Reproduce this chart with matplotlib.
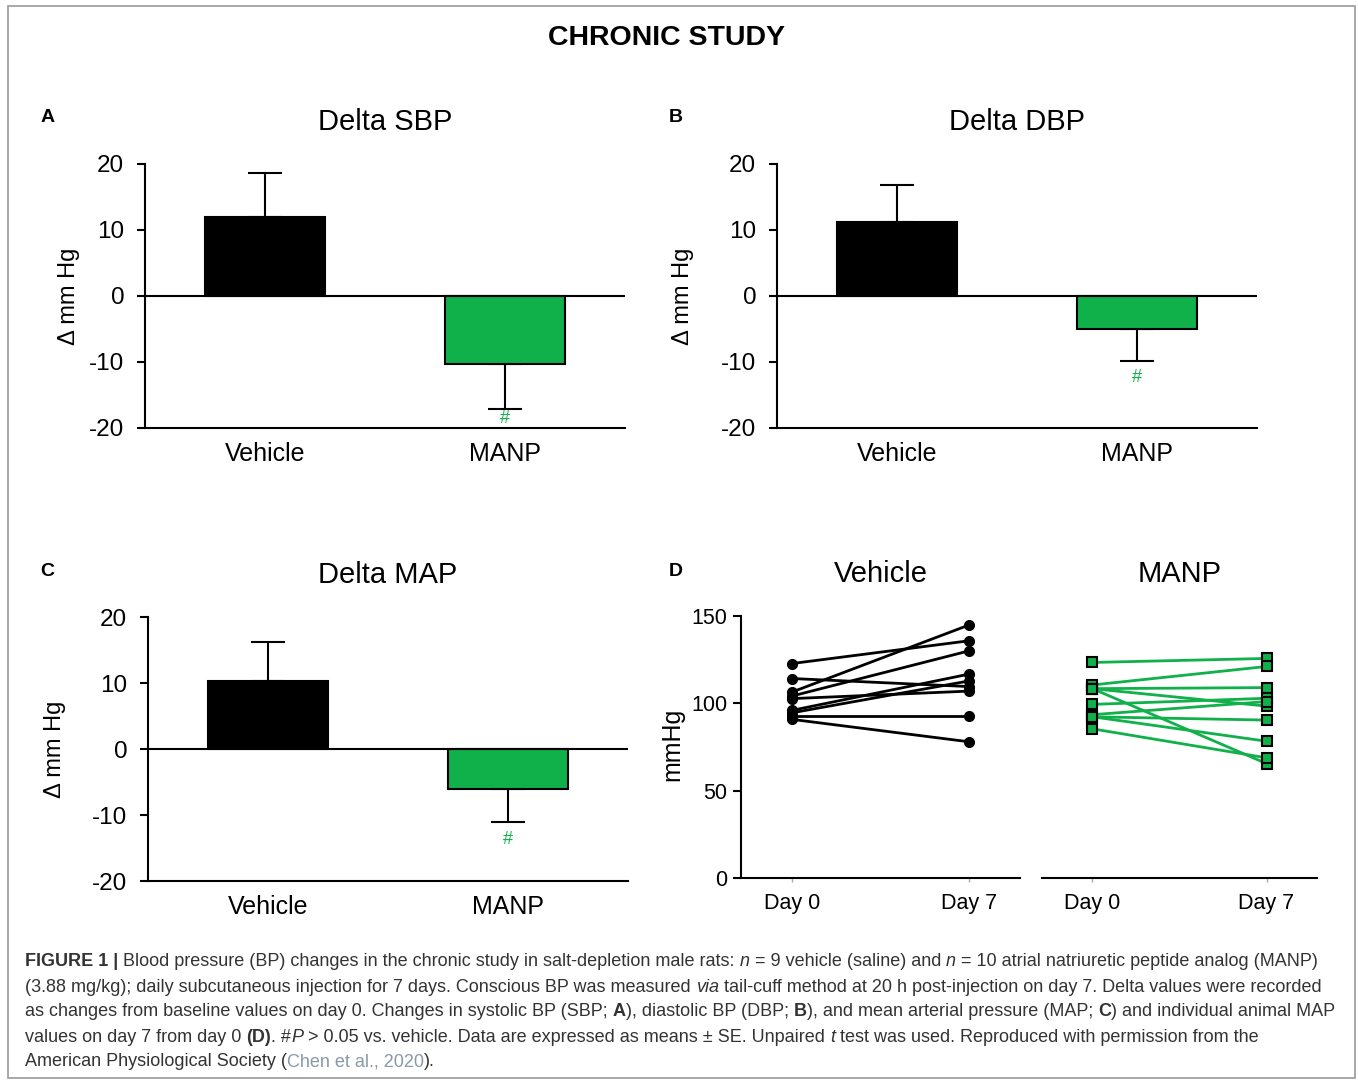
import numpy as np
import matplotlib
matplotlib.use("Agg")
import matplotlib.pyplot as plt
from matplotlib import font_manager
from matplotlib.patches import Rectangle

plt.rcParams['font.family'] = ['Liberation Sans', 'DejaVu Sans']
plt.rcParams['axes.unicode_minus'] = False

# ---- data ----
groups = ['Vehicle', 'MANP']
sbp_mean = [12.0, -10.3]
sbp_se = [6.6, 6.8]
dbp_mean = [11.2, -5.0]
dbp_se = [5.6, 4.8]
map_mean = [10.3, -6.1]
map_se = [5.9, 5.0]

days = ['Day 0', 'Day 7']
veh_day0 = [122.8, 114.2, 106.5, 104.2, 102.7, 96.0, 94.6, 92.7, 90.8]
veh_day7 = [135.8, 109.6, 144.8, 130.0, 107.0, 116.7, 112.8, 92.7, 78.0]
manp_day0 = [123.4, 110.5, 108.4, 108.4, 108.4, 99.4, 93.5, 92.3, 92.3, 85.4]
manp_day7 = [125.7, 121.1, 109.0, 98.4, 65.5, 102.9, 101.0, 90.4, 78.3, 68.8]

GREEN = '#10b04a'
W, H = 1358, 1080

fig = plt.figure(figsize=(W / 100, H / 100), dpi=100)


def ax_at(l, t, r, b):
    return fig.add_axes([l / W, 1 - b / H, (r - l) / W, (b - t) / H])


def bar_panel(ax, means, ses, title, lab_x, hash_off):
    x = np.arange(len(groups))
    ax.bar(x, means, width=0.5, color=['black', GREEN], edgecolor='black', linewidth=1.5, zorder=3)
    lower = [e if m < 0 else 0 for m, e in zip(means, ses)]
    upper = [e if m >= 0 else 0 for m, e in zip(means, ses)]
    ax.errorbar(x, means, yerr=[lower, upper], fmt='none', ecolor='black',
                elinewidth=1.5, capsize=12, capthick=1.5, zorder=2)
    ax.axhline(0, color='black', lw=1.5, zorder=4)
    ax.annotate('#', (1, means[1] - ses[1]), xytext=(0, hash_off), textcoords='offset points',
                ha='center', va='top', color=GREEN, fontsize=13)
    ax.set_xlim(-0.5, 1.5)
    ax.set_ylim(-20, 20)
    ax.set_yticks([20, 10, 0, -10, -20])
    ax.set_xticks(x)
    ax.set_xticklabels(groups)
    for s in ['top', 'right']:
        ax.spines[s].set_visible(False)
    for s in ['left', 'bottom']:
        ax.spines[s].set_linewidth(1.5)
    ax.tick_params(axis='y', length=6, width=1.5, pad=9, labelsize=17.5)
    ax.tick_params(axis='x', length=0, pad=10, labelsize=18)
    ax.set_ylabel('Δ mm Hg', fontsize=17)
    ax.yaxis.set_label_coords(lab_x, 0.5)
    ax.text(0.5, 1.16, title, transform=ax.transAxes, ha='center', va='center', fontsize=21)


axA = ax_at(145, 164, 625, 428)
bar_panel(axA, sbp_mean, sbp_se, 'Delta SBP', -0.136, -1)
axB = ax_at(777, 164, 1257, 428)
bar_panel(axB, dbp_mean, dbp_se, 'Delta DBP', -0.173, -6)
axC = ax_at(148, 617, 628, 881)
bar_panel(axC, map_mean, map_se, 'Delta MAP', -0.171, -6)

# ---- panel D ----
axV = ax_at(741, 616, 1020, 878)
axM = ax_at(1042, 616, 1317, 878)
for a, b in zip(veh_day0, veh_day7):
    axV.plot([0, 1], [a, b], color='black', lw=2, marker='o', ms=7, clip_on=False)
for a, b in zip(manp_day0, manp_day7):
    axM.plot([0, 1], [a, b], color=GREEN, lw=2, marker='s', ms=6.5,
             markerfacecolor=GREEN, markeredgecolor='black', markeredgewidth=1.5, clip_on=False)
for ax, name in [(axV, 'Vehicle'), (axM, 'MANP')]:
    ax.set_xlim(-0.29, 1.29)
    ax.set_ylim(0, 150)
    ax.set_xticks([0, 1])
    ax.set_xticklabels(days)
    for s in ['top', 'right']:
        ax.spines[s].set_visible(False)
    ax.spines['bottom'].set_linewidth(1.5)
    ax.spines['left'].set_linewidth(1.5)
    ax.tick_params(axis='x', length=3, width=1, color='#aaaaaa', pad=8, labelsize=15.5)
    ax.tick_params(axis='y', length=6, width=1.5, pad=4, labelsize=15.5)
    ax.text(0.5, 1.16, name, transform=ax.transAxes, ha='center', va='center', fontsize=21)
axV.set_yticks([0, 50, 100, 150])
axV.set_ylabel('mmHg', fontsize=18)
axV.yaxis.set_label_coords(-0.204, 0.51)
axM.spines['left'].set_visible(False)
axM.set_yticks([])

# ---- figure texts ----
fig.text(667 / W, 1 - 38 / H, 'CHRONIC STUDY', ha='center', va='center', fontsize=20.5, fontweight='bold')
for lab, (px, py) in zip('ABCD', [(48, 118), (676, 118), (47, 571), (676, 571)]):
    fig.text(px / W, 1 - py / H, lab, ha='center', va='center', fontsize=14, fontweight='bold')

fig.add_artist(Rectangle((8 / W, 2 / H), (1355 - 8) / W, 1072 / H, transform=fig.transFigure,
                         fill=False, edgecolor='#9a9a9a', lw=1.2))

# ---- caption ----
names = {f.name for f in font_manager.fontManager.ttflist}
cap_font = 'Liberation Sans Narrow' if 'Liberation Sans Narrow' in names else 'Liberation Sans'
CAP = '#333333'
LINK = '#8a98a8'
R, B, I = {}, {'fontweight': 'bold'}, {'fontstyle': 'italic'}
caption = [
    [('FIGURE 1 |', B), (' Blood pressure (BP) changes in the chronic study in salt-depletion male rats: ', R),
     ('n', I), (' = 9 vehicle (saline) and ', R), ('n', I),
     (' = 10 atrial natriuretic peptide analog (MANP)', R)],
    [('(3.88 mg/kg); daily subcutaneous injection for 7 days. Conscious BP was measured ', R), ('via', I),
     (' tail-cuff method at 20 h post-injection on day 7. Delta values were recorded', R)],
    [('as changes from baseline values on day 0. Changes in systolic BP (SBP; ', R), ('A', B),
     ('), diastolic BP (DBP; ', R), ('B', B), ('), and mean arterial pressure (MAP; ', R), ('C', B),
     (') and individual animal MAP', R)],
    [('values on day 7 from day 0 ', R), ('(D)', B), ('. #', R), ('P', I),
     (' > 0.05 vs. vehicle. Data are expressed as means ± SE. Unpaired ', R), ('t', I),
     (' test was used. Reproduced with permission from the', R)],
    [('American Physiological Society (', R), ('Chen et al., 2020', {'color': LINK}), (').', R)],
]

renderer = fig.canvas.get_renderer()


def line_width(pieces, size):
    tot = 0
    for txt, kw in pieces:
        t = fig.text(0, 0, txt, fontsize=size, family=cap_font, **kw)
        tot += t.get_window_extent(renderer).width
        t.remove()
    return tot


base = 12
size = base * 1290 / line_width(caption[0], base)

for i, pieces in enumerate(caption):
    x = 25
    y = 962 + 25 * i
    for txt, kw in pieces:
        kw2 = dict(kw)
        color = kw2.pop('color', CAP)
        t = fig.text(x / W, 1 - y / H, txt, fontsize=size, family=cap_font, color=color,
                     ha='left', va='center', **kw2)
        x += t.get_window_extent(renderer).width

fig.savefig('out.png', dpi=100)
